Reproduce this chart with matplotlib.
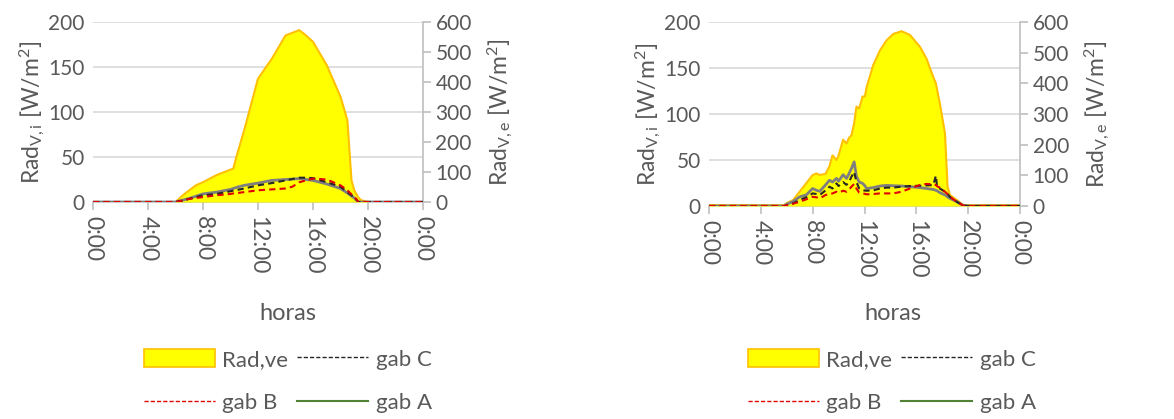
import numpy as np
import matplotlib
matplotlib.use("Agg")
import matplotlib.pyplot as plt
from matplotlib.lines import Line2D
from matplotlib.patches import Patch

plt.rcParams['font.family'] = ['Lato', 'DejaVu Sans']
plt.rcParams['mathtext.fontset'] = 'custom'
plt.rcParams['mathtext.rm'] = 'Lato'
plt.rcParams['mathtext.it'] = 'Lato'

GRIS_TXT = '#595959'
GRIS_EJE = '#bfbfbf'
GRIS_GRID = '#d9d9d9'

# ---- Día 1 (gráfico izquierdo) ----
horas_1 = [0, 6.0, 6.5, 7.0, 7.5, 8.0, 8.5, 9.0, 9.5, 10.0, 10.2, 10.5, 11.0, 12.0, 13.0,
           14.0, 14.5, 15.0, 15.5, 16.0, 17.0, 18.0, 18.5, 18.8, 19.0, 19.3, 19.5, 20.0, 24]
rad_ve_1 = [0, 0, 21, 39, 56, 66, 78, 90, 99, 108, 111, 162, 240, 411, 477,
            555, 564, 573, 555, 534, 456, 351, 273, 72, 39, 15, 6, 0, 0]
gab_A_1 = [0, 0, 2, 4, 6.5, 9, 10, 11, 12.5, 14, 15, 16.5, 18.5, 21, 24,
           25, 25.5, 26, 25, 24, 20, 15, 10, 6.5, 4.5, 0, 0, 0, 0]
gab_C_1 = [0, 0, 1.5, 3.5, 5.5, 7.5, 8.2, 9, 10.5, 12, 12.6, 13.5, 15, 18.5, 21,
           24, 25.5, 27, 27, 26.5, 22, 17, 11, 7.5, 5.5, 0, 0, 0, 0]
gab_B_1 = [0, 0, 1.5, 3.5, 4.5, 5.5, 6.5, 7.5, 8.2, 9, 9.5, 10, 11, 13, 14,
           15, 17, 22, 24, 26, 25, 18.5, 13, 8.5, 6, 0, 0, 0, 0]

# ---- Día 2 (gráfico derecho) ----
horas_2 = [0, 5.8, 6.0, 6.5, 7.0, 7.5, 8.0, 8.3, 8.55, 9.0, 9.3, 9.53, 9.84, 10.0, 10.35,
           10.61, 10.8, 11.0, 11.2, 11.38, 11.59, 11.85, 12.03, 12.16, 12.67, 13.19, 13.7,
           14.22, 14.86, 15.5, 16.28, 16.79, 17.31, 17.51, 17.6, 17.82, 18.21, 18.41, 18.59,
           19.11, 19.62, 20.0, 24]
rad_ve_2 = [3, 3, 9, 20, 47, 74, 101, 106, 101, 105, 130, 165, 150, 165, 216,
            204, 222, 231, 270, 324, 318, 357, 357, 387, 459, 507, 540,
            561, 570, 558, 519, 480, 420, 400, 380, 333, 237, 63, 36,
            20, 3, 3, 3]
gab_A_2 = [0, 0, 2, 5, 10, 12, 19, 17, 16, 23, 28, 26, 30, 27, 34,
           30, 35, 41, 48, 32, 26, 24.6, 22, 19, 20, 21.7, 22.4,
           22, 21.7, 21, 20, 19, 18, 17, 16.5, 14.5, 12, 10, 8.3,
           4.7, 0.5, 0, 0]
gab_C_2 = [0, 0, 0.5, 3, 6.5, 9.4, 13.7, 13, 12, 17, 21, 19, 24.6, 21.7, 26,
           23, 26, 32, 37, 26, 19, 17, 16.8, 16.6, 17, 19, 20,
           20, 21, 21.7, 22, 22.4, 22.8, 33, 21, 19, 15.5, 13, 10,
           4.7, 0.5, 0, 0]
gab_B_2 = [0, 0, 1, 2.5, 4.7, 7.2, 10, 9.4, 8.3, 12, 13, 13.7, 15.5, 14.5, 16.6,
           15.5, 18, 21, 24, 19, 14.5, 13.7, 13.2, 12.7, 13, 13.7, 13.7,
           13.7, 15.5, 19, 22.8, 24, 23.5, 22.8, 21.5, 20, 15.5, 13, 10,
           4.7, 0.5, 0, 0]

ticks_h = [0, 4, 8, 12, 16, 20, 24]
ticks_lbl = ['0:00', '4:00', '8:00', '12:00', '16:00', '20:00', '0:00']

fig = plt.figure(figsize=(11.74, 4.19), dpi=100)


def dibujar(pos, horas, rad_ve, gab_A, gab_B, gab_C, x_horas, x_leyenda):
    ax = fig.add_axes(pos)
    ax2 = ax.twinx()
    ax3 = ax.twinx()

    # eje izquierdo: grid y etiquetas
    ax.set_xlim(0, 24)
    ax.set_ylim(0, 200)
    ax.set_yticks([0, 50, 100, 150, 200])
    ax.yaxis.grid(True, color=GRIS_GRID, lw=1.2)
    ax.set_axisbelow(True)
    ax.set_xticks(ticks_h)
    ax.set_xticklabels(ticks_lbl, rotation=-90)
    for s in ['left', 'top', 'right']:
        ax.spines[s].set_visible(False)
    ax.spines['bottom'].set_color(GRIS_EJE)
    ax.spines['bottom'].set_linewidth(1.2)
    ax.tick_params(axis='y', length=0, labelsize=15, colors=GRIS_TXT, pad=6)
    ax.tick_params(axis='x', length=6, color=GRIS_EJE, width=1.2,
                   labelsize=16.5, labelcolor=GRIS_TXT, pad=4)
    ax.set_ylabel(r'Rad$_{\mathrm{V,i}}$ [W/m$^{2}$]', fontsize=16.5, color=GRIS_TXT, labelpad=1)

    # eje derecho: radiación exterior
    ax2.fill_between(horas, rad_ve, color='#ffff00', lw=0)
    ax2.plot(horas, rad_ve, color='#ffc000', lw=1.5)
    ax2.set_ylim(0, 600)
    ax2.set_yticks([0, 100, 200, 300, 400, 500, 600])
    for s in ['left', 'top', 'bottom']:
        ax2.spines[s].set_visible(False)
    ax2.spines['right'].set_color(GRIS_EJE)
    ax2.spines['right'].set_linewidth(1.2)
    ax2.tick_params(axis='y', length=6, color=GRIS_EJE, width=1.2,
                    labelsize=15, labelcolor=GRIS_TXT, pad=3)
    ax2.set_ylabel(r'Rad$_{\mathrm{V,e}}$ [W/m$^{2}$]', fontsize=16.5, color=GRIS_TXT, labelpad=10)

    # gabinetes
    ax3.set_ylim(0, 200)
    ax3.plot(horas, gab_A, color='#7f7f7f', lw=2)
    ax3.plot(horas, gab_C, color='#262626', lw=1.5, ls=(0, (3, 2)))
    ax3.plot(horas, gab_B, color='#e00000', lw=1.5, ls=(0, (3, 2)))
    ax3.axis('off')

    fig.text(x_horas, 1 - 313 / 419, 'horas', fontsize=17, color=GRIS_TXT,
             ha='center', va='center')

    handles = [Patch(facecolor='#ffff00', edgecolor='#ffc000', lw=1.2),
               Line2D([], [], color='#e00000', lw=1, ls=(0, (3, 1.5))),
               Line2D([], [], color='#262626', lw=1, ls=(0, (3, 1.5))),
               Line2D([], [], color='#548235', lw=1.5)]
    labels = ['Rad,ve', 'gab B', 'gab C', 'gab A']
    leg = ax.legend(handles, labels, ncol=2, loc='center',
                    bbox_to_anchor=(x_leyenda, 1 - 381 / 419), bbox_transform=fig.transFigure,
                    frameon=False, fontsize=16, handlelength=3.2, handleheight=0.9,
                    handletextpad=0.35, columnspacing=0.4, labelspacing=1.0)
    for t in leg.get_texts():
        t.set_color(GRIS_TXT)


dibujar([93 / 1174, 1 - 202 / 419, 330 / 1174, 180 / 419],
        horas_1, rad_ve_1, gab_A_1, gab_B_1, gab_C_1, 288 / 1174, 288 / 1174)
dibujar([709 / 1174, 1 - 206 / 419, 311 / 1174, 184 / 419],
        horas_2, rad_ve_2, gab_A_2, gab_B_2, gab_C_2, 893 / 1174, 892 / 1174)

plt.savefig('out.png', dpi=100)
